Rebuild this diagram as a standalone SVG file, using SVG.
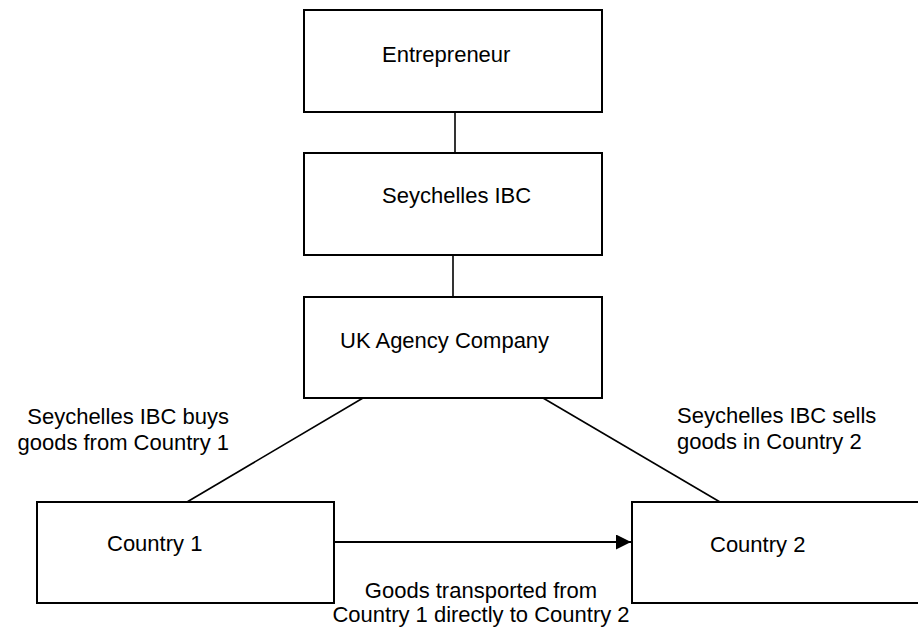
<svg xmlns="http://www.w3.org/2000/svg" width="918" height="629" viewBox="0 0 918 629">
<style>
.box{fill:#fff;stroke:#000;stroke-width:2}
.ln{fill:none;stroke:#000;stroke-width:1.6}
text{font-family:"Liberation Sans",Arial,sans-serif;font-size:22px;fill:#000}
</style>
<defs>
<marker id="ah" markerWidth="15" markerHeight="15" refX="15" refY="7.5" orient="auto" markerUnits="userSpaceOnUse">
<path d="M0,0 L15,7.5 L0,15 z" fill="#000"/>
</marker>
</defs>
<rect width="918" height="629" fill="#fff"/>
<g id="connectors">
<line class="ln" x1="455" y1="112" x2="455" y2="153"/>
<line class="ln" x1="453" y1="255" x2="453" y2="297"/>
<line class="ln" x1="363" y1="398" x2="187" y2="502"/>
<line class="ln" x1="543" y1="398" x2="720" y2="502"/>
<line class="ln" x1="334" y1="542" x2="631" y2="542" marker-end="url(#ah)" style="stroke-width:2"/>
</g>
<g id="entrepreneur">
<rect class="box" x="304" y="10" width="298" height="102"/>
<text x="382" y="62">Entrepreneur</text>
</g>
<g id="seychelles-ibc">
<rect class="box" x="304" y="153" width="298" height="102"/>
<text x="382" y="203">Seychelles IBC</text>
</g>
<g id="uk-agency">
<rect class="box" x="304" y="297" width="298" height="101"/>
<text x="340" y="348">UK Agency Company</text>
</g>
<g id="country1">
<rect class="box" x="37" y="502" width="297" height="101"/>
<text x="107" y="551">Country 1</text>
</g>
<g id="country2">
<rect class="box" x="632" y="502" width="300" height="101"/>
<text x="710" y="552">Country 2</text>
</g>
<g id="labels">
<text x="229" y="424" text-anchor="end">Seychelles IBC buys</text>
<text x="229" y="450" text-anchor="end">goods from Country 1</text>
<text x="677" y="423">Seychelles IBC sells</text>
<text x="677" y="449">goods in Country 2</text>
<text x="481" y="598" text-anchor="middle">Goods transported from</text>
<text x="481" y="622" text-anchor="middle">Country 1 directly to Country 2</text>
</g>
</svg>
